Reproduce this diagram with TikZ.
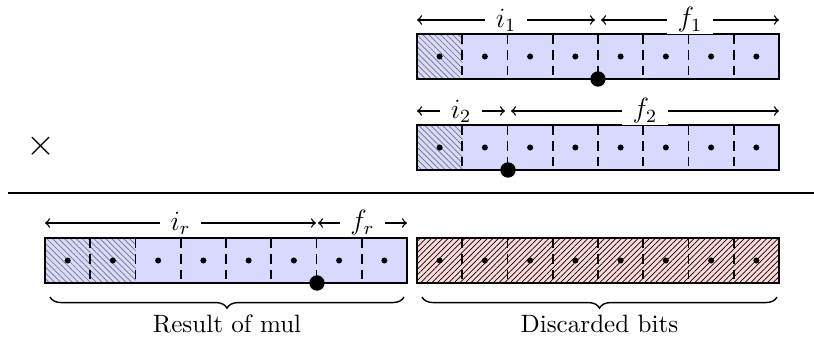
\documentclass[tikz,border=0pt]{standalone}
\usetikzlibrary{patterns.meta,decorations.pathreplacing,calc}
\definecolor{regblue}{RGB}{217,217,255}
\definecolor{regred}{RGB}{252,218,218}
\tikzset{
  regbox/.style={draw,thick,minimum width=362*0.43pt,minimum height=45*0.43pt,inner sep=0pt,outer sep=0pt},
  divider/.style={thick,dash pattern=on 4.2pt off 2.6pt,dash phase=0pt},
  bitdot/.style={fill=black},
  bigdot/.style={circle,fill=black,minimum size=6.6pt,inner sep=0pt},
  span/.style={semithick,<->},
  lbl/.style={fill=white,inner xsep=4.5pt,inner ysep=0.5pt,font=\large},
  bluehatch/.style={pattern={Lines[angle=-45,distance=1.8pt,line width=0.3pt]},pattern color=black!55},
  redhatch/.style={pattern={Lines[angle=45,distance=1.7pt,line width=0.3pt]},pattern color=black},
  underbrace/.style={semithick,decorate,decoration={brace,mirror,amplitude=4.8pt}},
  caption/.style={inner sep=0pt,anchor=north,font=\fontsize{10.8}{13}\selectfont}
}
% #1 name, #2 x0, #3 y0, #4 hatched cells (blue) or -1 for red register
\newcommand\bitreg[4]{%
  \ifnum#4<0
    \fill[regred] (#2,#3) rectangle ++(362,45);
    \fill[redhatch] (#2,#3) rectangle ++(362,45);
  \else
    \fill[regblue] (#2,#3) rectangle ++(362,45);
    \ifnum#4>0 \fill[bluehatch] (#2,#3) rectangle ++(#4*45.25,45);\fi
  \fi
  \foreach \k in {1,...,7} \draw[divider] ({#2+\k*45.25},#3) -- ++(0,45);
  \foreach \k in {0,...,7} \fill[bitdot] ({#2+(\k+0.5)*45.25},{#3+22.5}) circle (1.3pt);
  \node[regbox] (#1) at ({#2+181},{#3+22.5}) {};
}
\begin{document}
\begin{tikzpicture}[x=0.43pt,y=-0.43pt]
\useasboundingbox (0,0) rectangle (814,340);

% operand 1
\bitreg{ra}{417}{34}{1}
\node[bigdot] (pa) at (598,79) {};
\coordinate (ia1) at (417,20); \coordinate (ia2) at (595,20);
\coordinate (fa1) at (601,20); \coordinate (fa2) at (779,20);
\draw[span] (ia1) -- node[lbl] {$i_1$} (ia2);
\draw[span] (fa1) -- node[lbl] {$f_1$} (fa2);

% operand 2
\bitreg{rb}{417}{125}{1}
\node[bigdot] (pb) at (508,170) {};
\coordinate (ib1) at (417,111); \coordinate (ib2) at (505,111);
\coordinate (fb1) at (511,111); \coordinate (fb2) at (779,111);
\draw[span] (ib1) -- node[lbl] {$i_2$} (ib2);
\draw[span] (fb1) -- node[lbl] {$f_2$} (fb2);

\node[scale=1.6] (times) at (41,146) {$\times$};

% rule
\coordinate (ruleL) at (8,193); \coordinate (ruleR) at (814,193);
\draw[thick] (ruleL) -- (ruleR);

% result
\bitreg{rr}{45}{238}{2}
\node[bigdot] (pr) at (317,283) {};
\coordinate (ir1) at (45,223); \coordinate (ir2) at (316,223);
\coordinate (fr1) at (318,223); \coordinate (fr2) at (407,223);
\draw[span] (ir1) -- node[lbl] {$i_r$} (ir2);
\draw[span] (fr1) -- node[lbl] {$f_r$} (fr2);

% discarded
\bitreg{rd}{417}{238}{-1}

% braces
\coordinate (bra1) at (50,297); \coordinate (bra2) at (404,297);
\coordinate (brb1) at (422,297); \coordinate (brb2) at (777,297);
\draw[underbrace] (bra1) -- node[caption,below=7.5pt] (capa) {Result of mul} (bra2);
\draw[underbrace] (brb1) -- node[caption,below=7.5pt] (capb) {Discarded bits} (brb2);
\end{tikzpicture}
\end{document}
